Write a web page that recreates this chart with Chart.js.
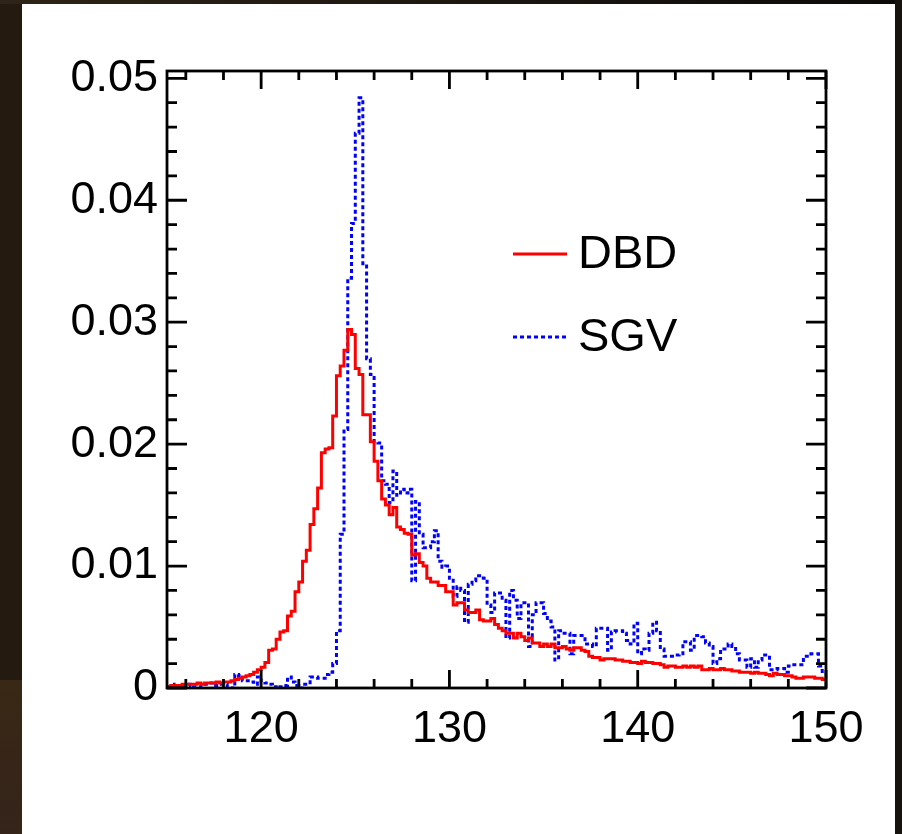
<!DOCTYPE html>
<html>
<head>
<meta charset="utf-8">
<title>DBD vs SGV</title>
<script src="https://cdn.jsdelivr.net/npm/chart.js@4.4.1/dist/chart.umd.min.js"></script>
<style>
    html, body { margin: 0; padding: 0; }
    body {
        width: 902px; height: 834px; overflow: hidden; position: relative;
        background: linear-gradient(180deg, #241a10 0px, #241a10 680px, #3a2816 680px, #34241a 834px);
    }
    #topbar { position: absolute; left: 0; top: 0; width: 902px; height: 4px; background: linear-gradient(90deg, #2e2418, #0c0a08); }
    #rightbar { position: absolute; right: 0; top: 0; width: 7px; height: 834px; background: #16120e; }
    #panel { position: absolute; left: 22px; top: 4px; width: 873px; height: 830px; background: #fff; }
    #myChart { position: absolute; left: 0; top: 0; }
</style>
</head>
<body>
<div id="topbar"></div>
<div id="rightbar"></div>
<div id="panel"></div>
<canvas id="myChart" width="902" height="834"></canvas>
<script>
'use strict';

let xMin = 115;
let xMax = 150;
let yMax = 0.0506;
let binWidth = 0.2;
let xTickLabels = [120, 130, 140, 150];
let yTickLabels = [0, 0.01, 0.02, 0.03, 0.04, 0.05];
let seriesNames = ['DBD', 'SGV'];

// bin contents, 0.2 wide bins from 115 to 150
let dbdValues = [
    0.0001, 0.0002, 0.0002, 0.0002, 0.0003,
    0.0003, 0.0003, 0.0003, 0.0004, 0.0003,
    0.0004, 0.0004, 0.0004, 0.0005, 0.0004,
    0.0005, 0.0005, 0.0006, 0.0007, 0.0008,
    0.0009, 0.0010, 0.0011, 0.0013, 0.0015,
    0.0017, 0.0021, 0.0031, 0.0032, 0.0040,
    0.0046, 0.0047, 0.0059, 0.0063, 0.0079,
    0.0087, 0.0104, 0.0113, 0.0134, 0.0147,
    0.0164, 0.0193, 0.0196, 0.0197, 0.0223,
    0.0256, 0.0264, 0.0277, 0.0294, 0.0290,
    0.0262, 0.0257, 0.0224, 0.0224, 0.0202,
    0.0186, 0.0170, 0.0155, 0.0150, 0.0142,
    0.0148, 0.0132, 0.0130, 0.0127, 0.0126,
    0.0109, 0.0110, 0.0103, 0.0100, 0.0090,
    0.0087, 0.0087, 0.0084, 0.0084, 0.0079,
    0.0079, 0.0068, 0.0070, 0.0070, 0.0064,
    0.0062, 0.0062, 0.0064, 0.0056, 0.0055,
    0.0055, 0.0057, 0.0052, 0.0049, 0.0047,
    0.0045, 0.0045, 0.0041, 0.0045, 0.0042,
    0.0039, 0.0041, 0.0037, 0.0037, 0.0034,
    0.0036, 0.0034, 0.0036, 0.0033, 0.0033,
    0.0034, 0.0032, 0.0031, 0.0033, 0.0033,
    0.0031, 0.0030, 0.0026, 0.0025, 0.0025,
    0.0023, 0.0024, 0.0024, 0.0024, 0.0023,
    0.0023, 0.0022, 0.0022, 0.0021, 0.0021,
    0.0020, 0.0022, 0.0021, 0.0021, 0.0020,
    0.0020, 0.0019, 0.0017, 0.0018, 0.0018,
    0.0017, 0.0017, 0.0018, 0.0017, 0.0018,
    0.0017, 0.0018, 0.0015, 0.0015, 0.0016,
    0.0015, 0.0015, 0.0016, 0.0015, 0.0015,
    0.0014, 0.0014, 0.0013, 0.0013, 0.0013,
    0.0012, 0.0013, 0.0012, 0.0012, 0.0011,
    0.0010, 0.0012, 0.0011, 0.0011, 0.0010,
    0.0010, 0.0009, 0.0008, 0.0008, 0.0009,
    0.0009, 0.0009, 0.0008, 0.0008, 0.0007
];

let sgvValues = [
    0.0001, 0.0001, 0.0003, 0.0001, 0.0001,
    0.0002, 0.0003, 0.0001, 0.0001, 0.0003,
    0.0003, 0.0004, 0.0002, 0.0002, 0.0003,
    0.0003, 0.0001, 0.0000, 0.0011, 0.0010,
    0.0006, 0.0006, 0.0005, 0.0003, 0.0009,
    0.0005, 0.0004, 0.0003, 0.0001, 0.0000,
    0.0001, 0.0002, 0.0009, 0.0005, 0.0002,
    0.0000, 0.0003, 0.0003, 0.0009, 0.0009,
    0.0008, 0.0008, 0.0011, 0.0013, 0.0020,
    0.0047, 0.0126, 0.0212, 0.0336, 0.0381,
    0.0455, 0.0484, 0.0348, 0.0270, 0.0257,
    0.0202, 0.0201, 0.0170, 0.0167, 0.0152,
    0.0178, 0.0158, 0.0163, 0.0160, 0.0163,
    0.0088, 0.0153, 0.0126, 0.0115, 0.0115,
    0.0120, 0.0129, 0.0104, 0.0099, 0.0100,
    0.0090, 0.0075, 0.0083, 0.0080, 0.0054,
    0.0085, 0.0088, 0.0092, 0.0092, 0.0090,
    0.0068, 0.0062, 0.0078, 0.0078, 0.0072,
    0.0041, 0.0080, 0.0072, 0.0057, 0.0070,
    0.0070, 0.0034, 0.0060, 0.0070, 0.0070,
    0.0061, 0.0055, 0.0050, 0.0023, 0.0047,
    0.0045, 0.0045, 0.0028, 0.0043, 0.0043,
    0.0043, 0.0036, 0.0036, 0.0034, 0.0049,
    0.0049, 0.0049, 0.0031, 0.0046, 0.0047,
    0.0047, 0.0045, 0.0039, 0.0036, 0.0053,
    0.0028, 0.0032, 0.0031, 0.0045, 0.0054,
    0.0047, 0.0032, 0.0026, 0.0026, 0.0026,
    0.0027, 0.0028, 0.0038, 0.0038, 0.0031,
    0.0043, 0.0043, 0.0042, 0.0037, 0.0034,
    0.0020, 0.0024, 0.0032, 0.0032, 0.0036,
    0.0034, 0.0028, 0.0023, 0.0023, 0.0017,
    0.0024, 0.0017, 0.0023, 0.0027, 0.0027,
    0.0015, 0.0015, 0.0016, 0.0016, 0.0013,
    0.0018, 0.0019, 0.0019, 0.0019, 0.0026,
    0.0026, 0.0028, 0.0028, 0.0018, 0.0012
];

let labelFont = { family: "'Liberation Sans', Arial, sans-serif", size: 45 };

// points at the low edge of each bin, plus one closing point at the end
function histPoints(values) {
    let points = [];
    for (let i = 0; i < values.length; i++) {
        points.push({ x: xMin + i * binWidth, y: values[i] });
    }
    points.push({ x: xMin + values.length * binWidth, y: values[values.length - 1] });
    return points;
}

// ROOT style frame: ticks pointing inwards on all four sides
let frameTicks = {
    id: 'frameTicks',
    afterDatasetsDraw(chart) {
        let ctx = chart.ctx;
        let area = chart.chartArea;
        let xs = chart.scales.x;
        let ys = chart.scales.y;
        ctx.save();
        ctx.strokeStyle = '#000';
        ctx.lineWidth = 2.8;
        ctx.beginPath();
        for (let v = 116; v <= xMax; v += 2) {
            let px = xs.getPixelForValue(v);
            let len = xTickLabels.includes(v) ? 18 : 9;
            ctx.moveTo(px, area.bottom);
            ctx.lineTo(px, area.bottom - len);
            ctx.moveTo(px, area.top);
            ctx.lineTo(px, area.top + len);
        }
        for (let i = 0; i * 0.002 <= yMax; i++) {
            let py = ys.getPixelForValue(i * 0.002);
            let len = i % 5 === 0 ? 20 : 10;
            ctx.moveTo(area.left, py);
            ctx.lineTo(area.left + len, py);
            ctx.moveTo(area.right, py);
            ctx.lineTo(area.right - len, py);
        }
        ctx.stroke();
        ctx.strokeRect(area.left, area.top, area.right - area.left, area.bottom - area.top);
        ctx.restore();
    }
};

// legend box inside the pad
let padLegend = {
    id: 'padLegend',
    afterDraw(chart) {
        let ctx = chart.ctx;
        let rows = [254, 337];
        ctx.save();
        chart.data.datasets.forEach(function (ds, i) {
            ctx.beginPath();
            ctx.strokeStyle = ds.borderColor;
            ctx.lineWidth = 3;
            ctx.setLineDash(ds.borderDash || []);
            ctx.moveTo(513, rows[i]);
            ctx.lineTo(567, rows[i]);
            ctx.stroke();
            ctx.setLineDash([]);
            ctx.fillStyle = '#000';
            ctx.font = "47px 'Liberation Sans', Arial, sans-serif";
            ctx.textBaseline = 'middle';
            ctx.textAlign = 'left';
            ctx.fillText(ds.label, 578, rows[i] + 1);
        });
        ctx.restore();
    }
};

let ctx = document.getElementById('myChart').getContext('2d');
let myChart = new Chart(ctx, {
    type: 'line',
    data: {
        datasets: [{
            label: seriesNames[0],
            data: histPoints(dbdValues),
            borderColor: '#ff0000',
            borderWidth: 3,
            stepped: 'before',
            pointRadius: 0,
            fill: false
        }, {
            label: seriesNames[1],
            data: histPoints(sgvValues),
            borderColor: '#0000ff',
            borderWidth: 3,
            borderDash: [4, 3],
            stepped: 'before',
            pointRadius: 0,
            fill: false
        }]
    },
    options: {
        responsive: false,
        animation: false,
        devicePixelRatio: 1,
        layout: {
            padding: { left: 22, top: 71, right: 76, bottom: 86 }
        },
        plugins: {
            legend: { display: false },
            tooltip: { enabled: false }
        },
        scales: {
            x: {
                type: 'linear',
                min: xMin,
                max: xMax,
                grid: { display: false, drawTicks: false },
                border: { display: false },
                afterBuildTicks: function (scale) {
                    scale.ticks = xTickLabels.map(v => ({ value: v }));
                },
                afterFit: function (scale) { scale.height = 60; },
                ticks: {
                    color: '#000',
                    font: labelFont,
                    padding: 15,
                    maxRotation: 0,
                    autoSkip: false
                }
            },
            y: {
                min: 0,
                max: yMax,
                grid: { display: false, drawTicks: false },
                border: { display: false },
                afterBuildTicks: function (scale) {
                    scale.ticks = yTickLabels.map(v => ({ value: v }));
                },
                afterFit: function (scale) { scale.width = 145; },
                ticks: {
                    color: '#000',
                    font: labelFont,
                    padding: 9,
                    autoSkip: false,
                    callback: function (value) {
                        return value === 0 ? '0' : value.toFixed(2);
                    }
                }
            }
        }
    },
    plugins: [frameTicks, padLegend]
});
</script>
</body>
</html>
